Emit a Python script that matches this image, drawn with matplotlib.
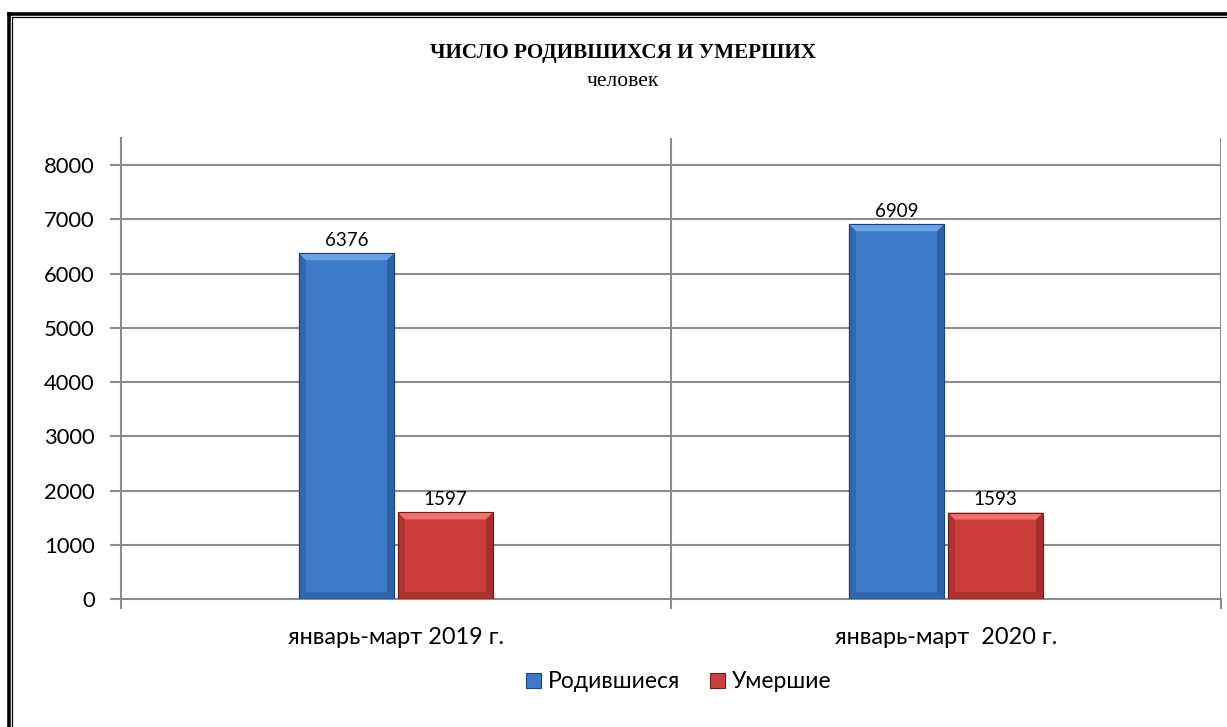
import matplotlib
matplotlib.use("Agg")
import matplotlib.pyplot as plt
from matplotlib.patches import Polygon, Rectangle
from matplotlib.lines import Line2D
import numpy as np

categories = ["январь-март 2019 г.", "январь-март  2020 г."]
series_names = ["Родившиеся", "Умершие"]
born = [6376, 6909]
died = [1597, 1593]
yticks = [0, 1000, 2000, 3000, 4000, 5000, 6000, 7000, 8000]

W, H = 1227, 727
fig = plt.figure(figsize=(W / 100, H / 100), dpi=100)
fig.patch.set_facecolor("white")

LABEL_FONT = ["Lato", "DejaVu Sans"]
SERIF = ["Liberation Serif", "DejaVu Serif"]

# outer double frame
fig.add_artist(Line2D([8.5 / W, 8.5 / W], [0, 1 - 13.5 / H], color="black", lw=2.6, transform=fig.transFigure))
fig.add_artist(Line2D([8.5 / W, 1], [1 - 13.5 / H, 1 - 13.5 / H], color="black", lw=2.6, transform=fig.transFigure))
fig.add_artist(Line2D([11.8 / W, 11.8 / W], [0, 1 - 16.8 / H], color="black", lw=0.9, transform=fig.transFigure))
fig.add_artist(Line2D([11.8 / W, 1], [1 - 16.8 / H, 1 - 16.8 / H], color="black", lw=0.9, transform=fig.transFigure))

fig.text(623 / W, 1 - 53 / H, "ЧИСЛО РОДИВШИХСЯ И УМЕРШИХ", ha="center", va="center",
         fontsize=15.2, fontweight="bold", family=SERIF)
fig.text(623 / W, 1 - 81 / H, "человек", ha="center", va="center", fontsize=15.5, family=SERIF)

left, right, bottom, top = 121, 1221, 599, 138
ax = fig.add_axes([left / W, 1 - bottom / H, (right - left) / W, (bottom - top) / H])
ax.set_xlim(-0.5, 1.5)
ax.set_ylim(0, 8500)

grid_col = "#8C8C8C"
for s in ["top", "right"]:
    ax.spines[s].set_visible(False)
for s in ["left", "bottom"]:
    ax.spines[s].set_color(grid_col)
    ax.spines[s].set_linewidth(1.5)

ax.set_yticks(yticks)
ax.set_yticklabels([str(v) for v in yticks], fontsize=15.8, family=LABEL_FONT)
ax.tick_params(axis="y", length=8, width=1.5, color=grid_col, pad=11)
for v in yticks[1:]:
    ax.axhline(v, color=grid_col, lw=1.5, zorder=0)

x = np.arange(len(categories))
ax.set_xticks(x)
ax.set_xticklabels(categories, fontsize=16.9, family=LABEL_FONT)
ax.tick_params(axis="x", which="major", length=0, pad=20)
bounds = np.arange(-0.5, len(categories) + 0.5, 1.0)
ax.set_xticks(bounds, minor=True)
ax.tick_params(axis="x", which="minor", length=7, width=1.5, color=grid_col)
for b in bounds[1:]:
    ax.axvline(b, color=grid_col, lw=1.5, zorder=0)

bw = 0.173
off = 0.09
styles = [
    dict(face="#3D7AC7", light="#6AA3E6", dark="#2A5A9C", edge="#1F4373"),
    dict(face="#CB3E3B", light="#EE716C", dark="#992A27", edge="#6E1D1B"),
]
# bevel sizes in data units (approx 7 px)
bx = 7 / (right - left) * 2.0
by = 7 / (bottom - top) * 8500

for vals, dx, st, name in [(born, -off, styles[0], series_names[0]), (died, off, styles[1], series_names[1])]:
    bars = ax.bar(x + dx, vals, width=bw, color=st["face"], edgecolor=st["edge"], linewidth=0.8,
                  zorder=3, label=name)
    for rect, v in zip(bars, vals):
        x0, x1 = rect.get_x(), rect.get_x() + rect.get_width()
        h = rect.get_height()
        ax.add_patch(Polygon([[x0, h], [x1, h], [x1 - bx, h - by], [x0 + bx, h - by]],
                             closed=True, facecolor=st["light"], edgecolor="none", zorder=4))
        ax.add_patch(Polygon([[x0, h], [x0 + bx, h - by], [x0 + bx, by], [x0, 0]],
                             closed=True, facecolor=st["dark"], edgecolor="none", alpha=0.55, zorder=4))
        ax.add_patch(Polygon([[x1, h], [x1 - bx, h - by], [x1 - bx, by], [x1, 0]],
                             closed=True, facecolor=st["dark"], edgecolor="none", alpha=0.75, zorder=4))
        ax.add_patch(Polygon([[x0, 0], [x1, 0], [x1 - bx, by], [x0 + bx, by]],
                             closed=True, facecolor=st["dark"], edgecolor="none", alpha=0.6, zorder=4))
        ax.add_patch(Rectangle((x0, 0), x1 - x0, h, facecolor="none", edgecolor=st["edge"],
                               linewidth=0.8, zorder=5))
        ax.annotate(str(v), (rect.get_x() + rect.get_width() / 2, h), xytext=(0, 3),
                    textcoords="offset points", ha="center", va="bottom", fontsize=13.5,
                    family=LABEL_FONT, zorder=6)

handles = [Rectangle((0, 0), 1, 1, facecolor=styles[i]["face"], edgecolor=styles[i]["edge"], lw=0.8)
           for i in range(2)]
fig.legend(handles, series_names, loc="center", bbox_to_anchor=(679 / W, 1 - 682 / H), ncol=2,
           frameon=False, prop={"family": LABEL_FONT, "size": 16.5}, handlelength=0.65, handleheight=0.65,
           handletextpad=0.3, columnspacing=1.3)

fig.savefig("out.png", dpi=100, facecolor="white")
